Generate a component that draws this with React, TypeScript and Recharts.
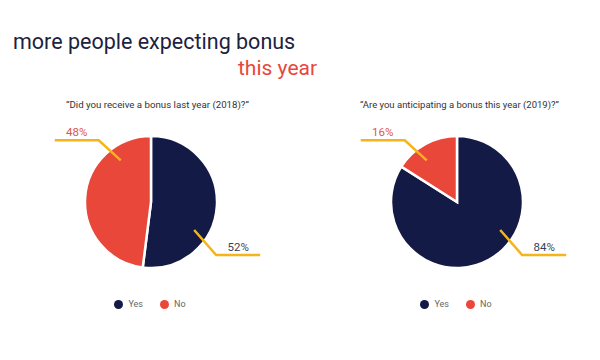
import { Legend, Pie, PieChart } from 'recharts'

const answers = ['Yes', 'No']
const lastYear = [52, 48]
const thisYear = [84, 16]
const questions = [
  '“Did you receive a bonus last year (2018)?”',
  '“Are you anticipating a bonus this year (2019)?”',
]

const NAVY = '#131a45'
const RED = '#e8473a'
const GOLD = '#f4b41a'
const LABEL_COLORS = ['#3a3f58', '#e0564a']

const FONT = 'Roboto, "Noto Sans", sans-serif'

function toRows(values: number[]) {
  return answers.map((name, i) => ({
    name,
    value: values[i],
    fill: i === 0 ? NAVY : RED,
  }))
}

// leader line: starts inside the slice, runs 45° outward, then flat
function renderLabel(props: any) {
  const { cx, cy, midAngle, outerRadius, value, index } = props
  const RAD = Math.PI / 180
  const right = Math.cos(-midAngle * RAD) > 0
  const ang = right ? -33 : 126
  const r = outerRadius * 0.78
  const sx = cx + r * Math.cos(ang * RAD)
  const sy = cy - r * Math.sin(ang * RAD)
  const dir = right ? 1 : -1
  const ex = sx + dir * 22
  const ey = sy + (right ? 25 : -20)
  const fx = ex + dir * 44
  return (
    <g key={`lbl-${index}`}>
      <polyline
        points={`${sx},${sy} ${ex},${ey} ${fx},${ey}`}
        fill="none"
        stroke={GOLD}
        strokeWidth={2.5}
      />
      <text
        x={(ex + fx) / 2}
        y={ey - 4}
        textAnchor="middle"
        fontSize={11.5}
        fontFamily={FONT}
        fill={LABEL_COLORS[index]}
      >
        {`${value}%`}
      </text>
    </g>
  )
}

function renderLegend(props: any) {
  const items = [...(props.payload || [])].sort(
    (a: any, b: any) => answers.indexOf(a.value) - answers.indexOf(b.value),
  )
  return (
    <div style={{ display: 'flex', justifyContent: 'center', gap: 17, fontFamily: FONT }}>
      {items.map((it: any) => (
        <div key={it.value} style={{ display: 'flex', alignItems: 'center', gap: 5 }}>
          <span
            style={{ width: 9, height: 9, borderRadius: '50%', background: it.color, display: 'inline-block' }}
          />
          <span style={{ fontSize: 9, color: '#666' }}>{it.value}</span>
        </div>
      ))}
    </div>
  )
}

function BonusPie({ values, left }: { values: number[]; left: number }) {
  return (
    <div style={{ position: 'absolute', left, top: 0 }}>
      <PieChart width={300} height={360} margin={{ top: 0, right: 0, bottom: 0, left: 0 }}>
        <Pie
          data={toRows(values)}
          dataKey="value"
          nameKey="name"
          cx={151}
          cy={202}
          outerRadius={66}
          startAngle={90}
          endAngle={-270}
          stroke="#fff"
          strokeWidth={2.5}
          label={renderLabel}
          labelLine={false}
          isAnimationActive={false}
        />
        <Legend
          content={renderLegend}
          wrapperStyle={{ top: 299, left: 0, width: 300, bottom: 'auto' }}
        />
      </PieChart>
    </div>
  )
}

export default function App() {
  return (
    <div style={{ position: 'absolute', left: 0, top: 0, width: 600, height: 360, background: '#fff' }}>
      <svg width={600} height={360} style={{ position: 'absolute', left: 0, top: 0 }}>
        <text x={13} y={49} fontSize={21.5} fontFamily={FONT} fill="#1c2240">
          more people expecting bonus
        </text>
        <text x={238} y={75} fontSize={21} fontFamily={FONT} fill={RED}>
          this year
        </text>
        <text x={66} y={108} fontSize={9.7} fontFamily={FONT} fill="#333">
          {questions[0]}
        </text>
        <text x={360} y={108} fontSize={9.5} fontFamily={FONT} fill="#333">
          {questions[1]}
        </text>
      </svg>
      <BonusPie values={lastYear} left={0} />
      <BonusPie values={thisYear} left={306} />
    </div>
  )
}
